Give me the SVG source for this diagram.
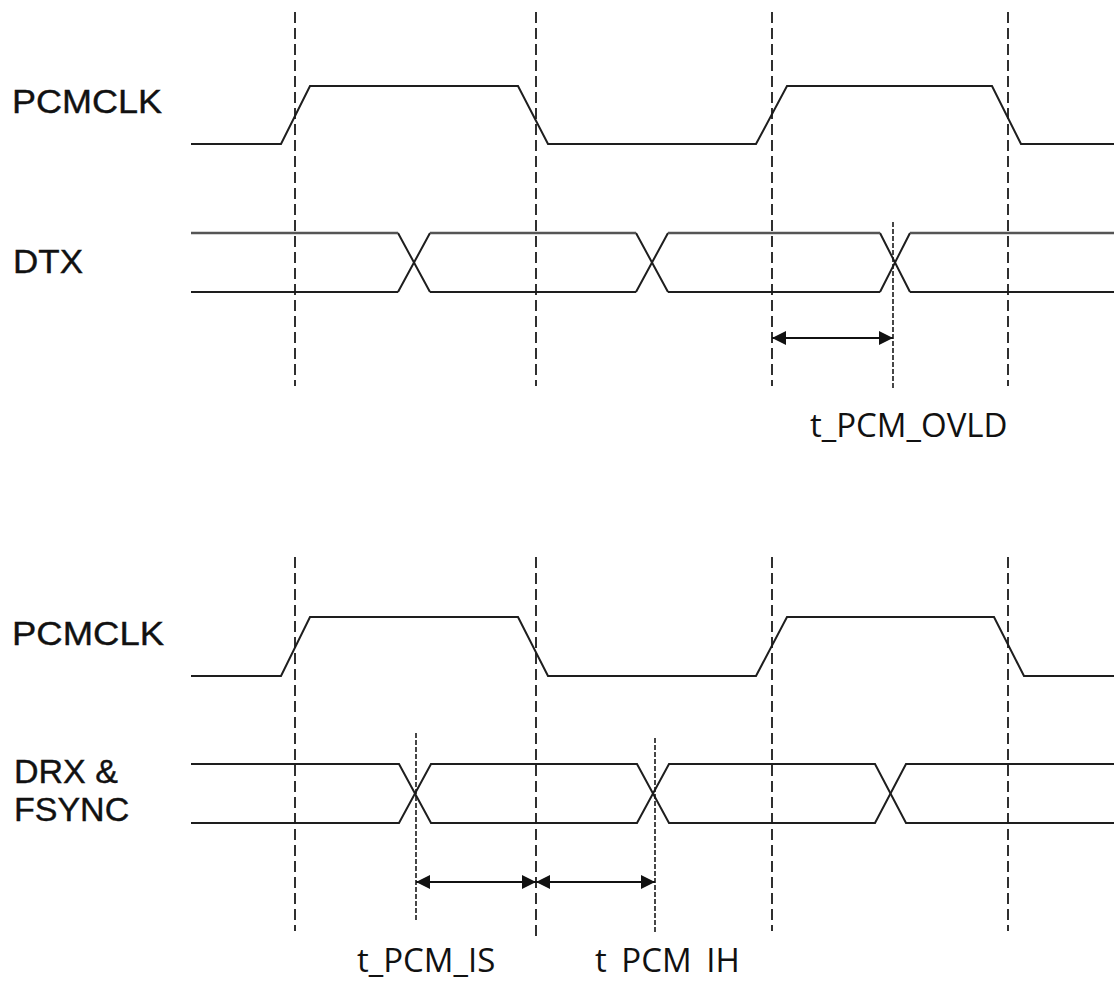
<svg xmlns="http://www.w3.org/2000/svg" width="1115" height="983" viewBox="0 0 1115 983">
<style>
.wave{fill:none;stroke:#1e1e1e;stroke-width:2;stroke-linejoin:miter}
.rail{fill:none;stroke:#555;stroke-width:2.4}
.dash{stroke:#1a1a1a;stroke-width:1.8;stroke-dasharray:11 5;fill:none}
.dot{stroke:#1a1a1a;stroke-width:1.6;stroke-dasharray:5 2;fill:none}
.arr{stroke:#111;stroke-width:2;fill:none;marker-start:url(#ah);marker-end:url(#ah)}
.sig{font-family:"Liberation Sans",Arial,sans-serif;font-size:34px;fill:#111;stroke:#111;stroke-width:0.4}
.tim{font-family:"Open Sans","Noto Sans",sans-serif;font-size:33px;fill:#111}
</style>
<defs>
<marker id="ah" viewBox="0 0 14 14" refX="14" refY="7" markerWidth="14" markerHeight="14" markerUnits="userSpaceOnUse" orient="auto-start-reverse">
<path d="M0,0 L14,7 L0,14 z" fill="#111"/>
</marker>
</defs>
<rect width="1115" height="983" fill="#fff"/>

<g id="labels">
<text class="sig" x="12" y="113" textLength="150" lengthAdjust="spacingAndGlyphs">PCMCLK</text>
<text class="sig" x="13" y="273" textLength="70" lengthAdjust="spacingAndGlyphs">DTX</text>
<text class="sig" x="12" y="645" textLength="152" lengthAdjust="spacingAndGlyphs">PCMCLK</text>
<text class="sig" x="14" y="783">DRX &amp;</text>
<text class="sig" x="14" y="821">FSYNC</text>
</g>

<g id="top-pcmclk">
<path class="wave" d="M191,144 H281 L310,86 H518 L548,144 H756 L787,86 H992 L1021,144 H1114"/>
</g>
<g id="dtx">
<path class="wave" d="M398,233 L430,292 M636,292 L668,233 M880,233 L910,292 M398,292 L430,233 M636,233 L668,292 M880,292 L910,233"/>
<path class="rail" d="M191,233 H398 M430,233 H636 M668,233 H880 M910,233 H1114"/>
<path class="wave" d="M191,292 H398 M430,292 H636 M668,292 H880 M910,292 H1114"/>
</g>
<g id="bottom-pcmclk">
<path class="wave" d="M191,676 H281 L310,617 H518 L548,676 H756 L787,617 H994 L1024,676 H1114"/>
</g>
<g id="drx-fsync">
<path class="wave" d="M191,764 H399 L431,823 H637 L669,764 H875 L906,823 H1114"/>
<path class="wave" d="M191,823 H399 L431,764 H637 L669,823 H875 L906,764 H1114"/>
</g>

<g id="connectors">
<line class="dash" x1="295" y1="12" x2="295" y2="386"/>
<line class="dash" x1="536" y1="12" x2="536" y2="386"/>
<line class="dash" x1="772" y1="12" x2="772" y2="386"/>
<line class="dash" x1="1008" y1="12" x2="1008" y2="386"/>
<line class="dot" x1="893" y1="222" x2="893" y2="390"/>
<line class="arr" x1="772" y1="338" x2="893" y2="338"/>

<line class="dash" x1="295" y1="557" x2="295" y2="931"/>
<line class="dash" x1="536" y1="557" x2="536" y2="936"/>
<line class="dash" x1="772" y1="557" x2="772" y2="931"/>
<line class="dash" x1="1008" y1="557" x2="1008" y2="931"/>
<line class="dot" x1="416" y1="733" x2="416" y2="922"/>
<line class="dot" x1="655" y1="738" x2="655" y2="932"/>
<line class="arr" x1="416" y1="882" x2="536" y2="882"/>
<line class="arr" x1="536" y1="882" x2="655" y2="882"/>
</g>

<g id="timing-labels">
<text class="tim" x="810" y="437">t_PCM_OVLD</text>
<text class="tim" x="357" y="972">t_PCM_IS</text>
<text class="tim" x="595" y="972" word-spacing="6">t PCM IH</text>
</g>
</svg>
